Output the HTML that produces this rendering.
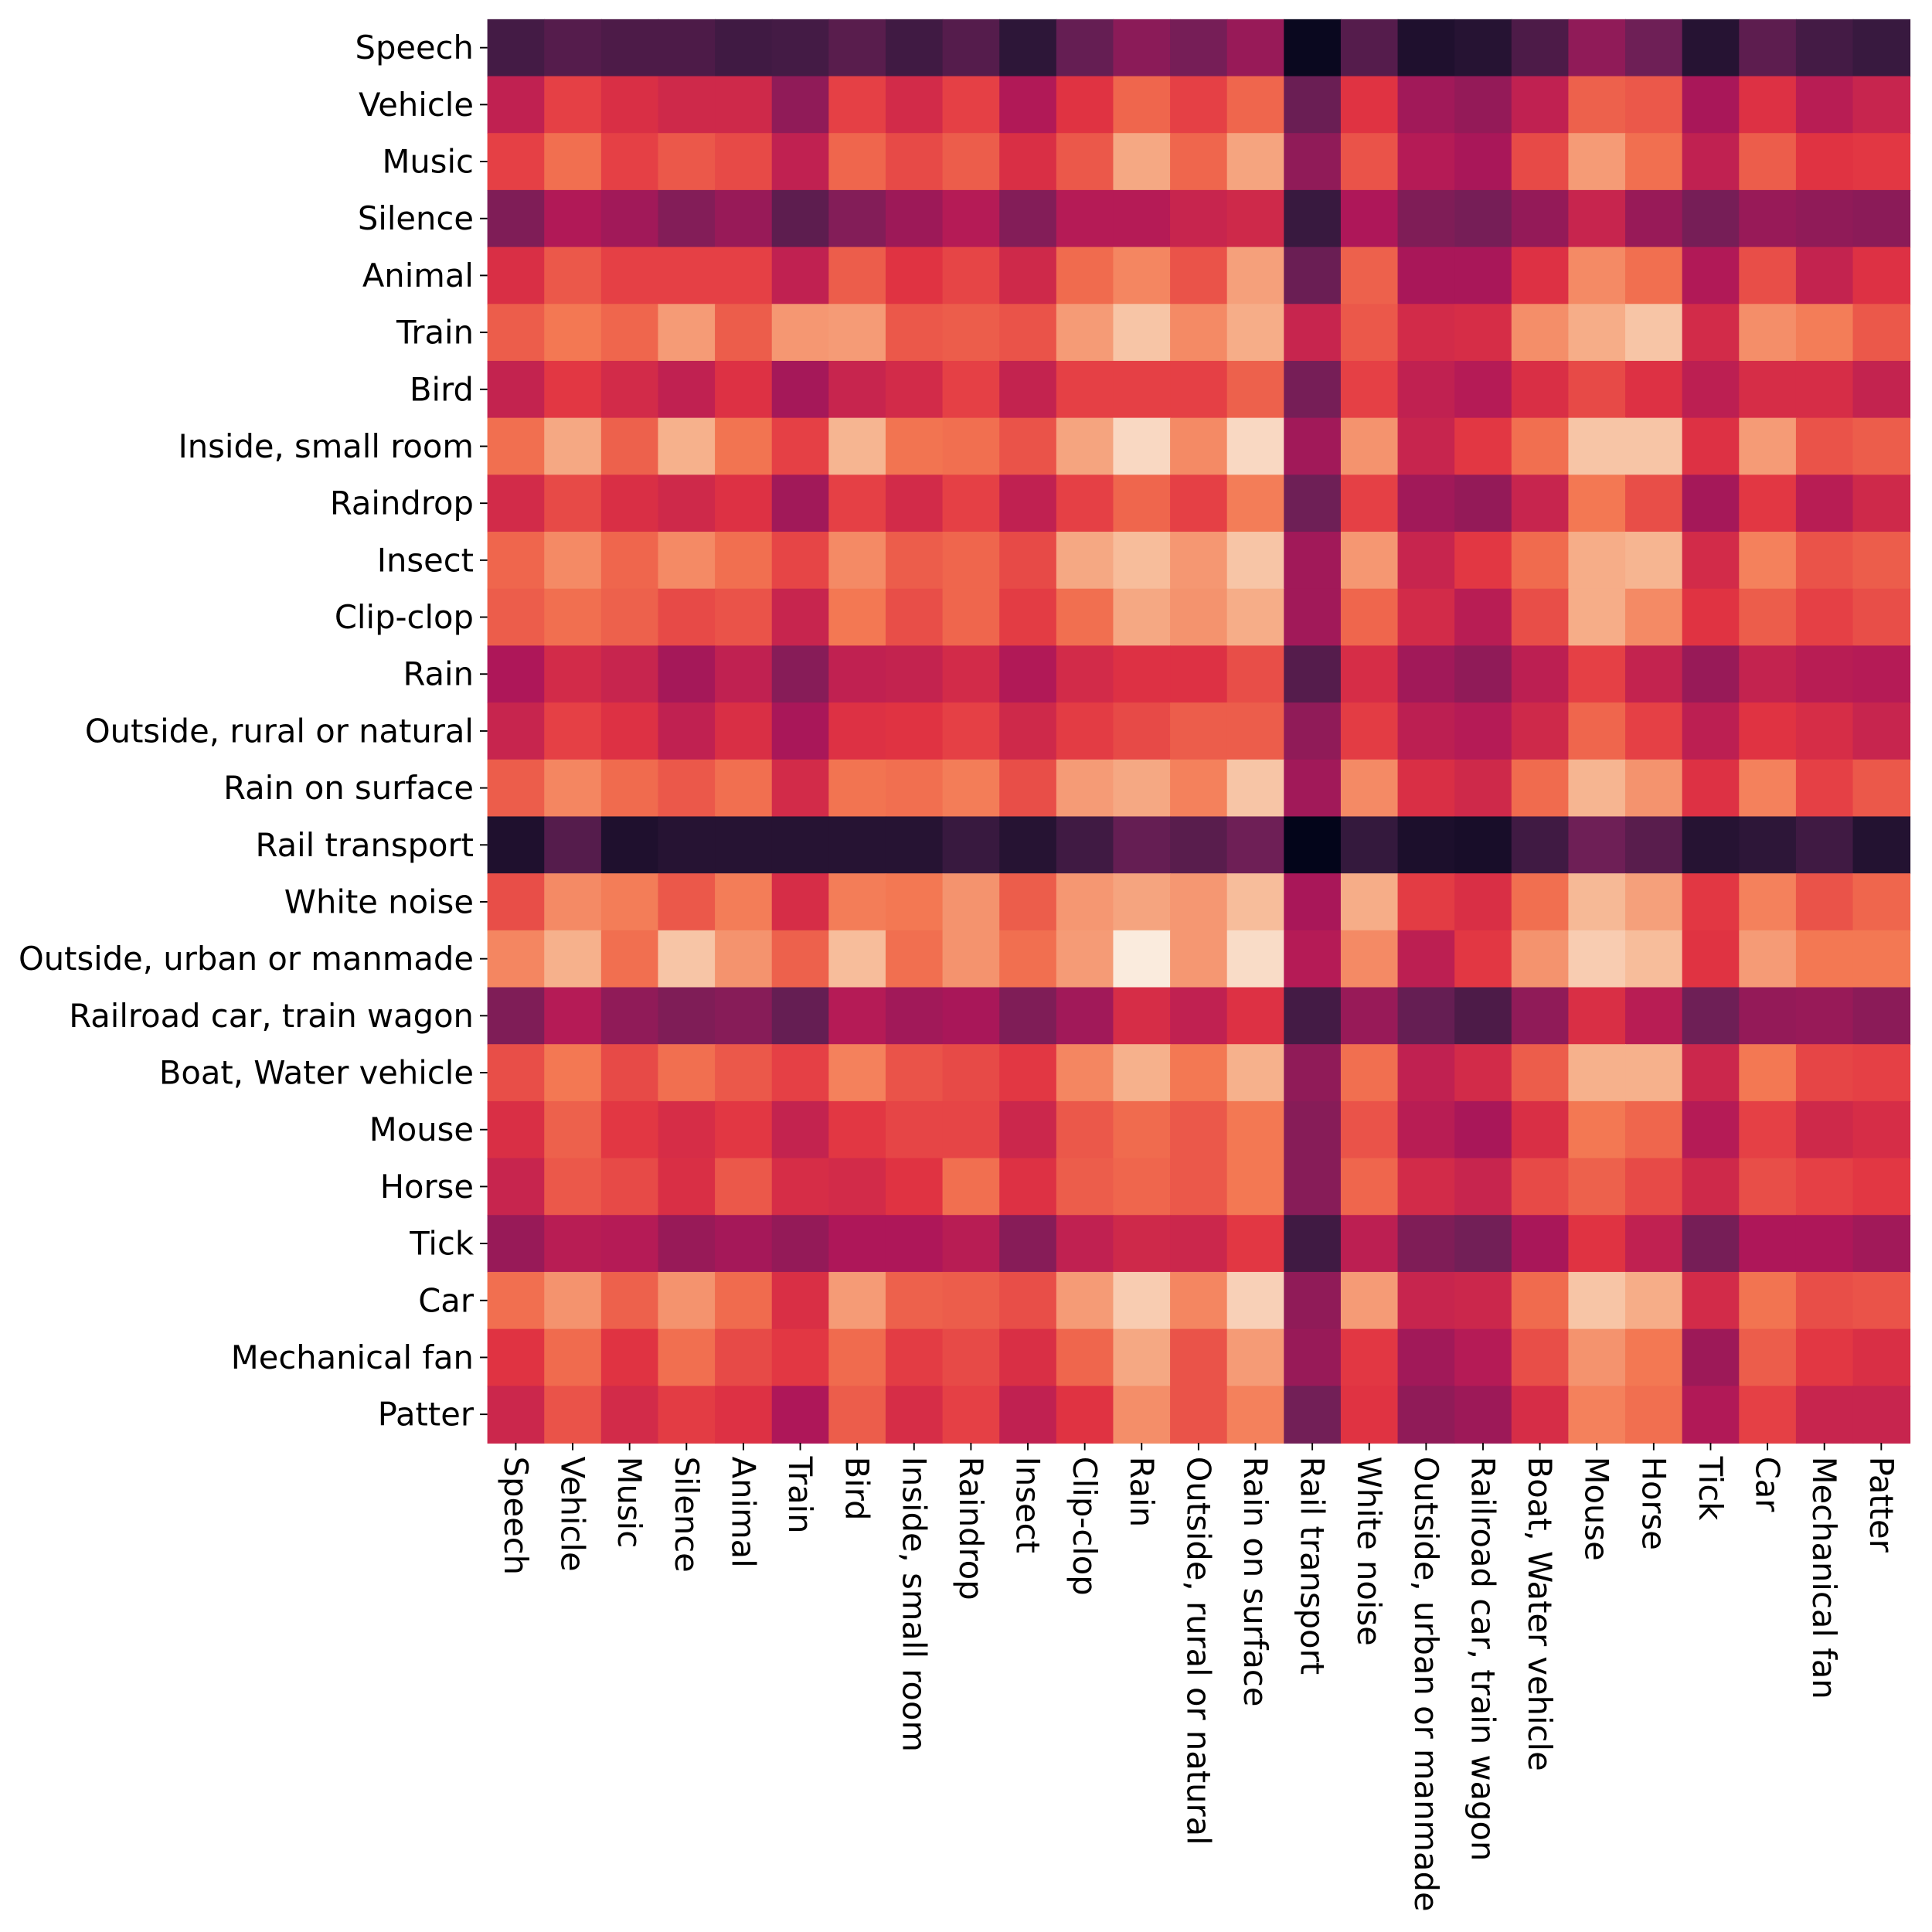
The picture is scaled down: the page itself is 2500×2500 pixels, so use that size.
<!DOCTYPE html>
<html><head><meta charset="utf-8"><style>html,body{margin:0;padding:0;background:#fff}svg{display:block}</style></head>
<body>
<svg id="chart" width="2500" height="2500" viewBox="0 0 1560 1560" xmlns="http://www.w3.org/2000/svg">
<g id="cells"></g>
<g id="ylabels"></g>
<g id="xlabels"></g>
</svg>
<script>
const categories = ["Speech","Vehicle","Music","Silence","Animal","Train","Bird","Inside, small room","Raindrop","Insect","Clip-clop","Rain","Outside, rural or natural","Rain on surface","Rail transport","White noise","Outside, urban or manmade","Railroad car, train wagon","Boat, Water vehicle","Mouse","Horse","Tick","Car","Mechanical fan","Patter"];
const rowSpeech=[0.18,0.22,0.2,0.2,0.17,0.18,0.23,0.17,0.22,0.12,0.26,0.35,0.3,0.38,0.02,0.22,0.08,0.1,0.2,0.36,0.28,0.1,0.24,0.18,0.15];
const rowVehicle=[0.48,0.6,0.55,0.52,0.52,0.36,0.6,0.53,0.6,0.44,0.57,0.68,0.6,0.68,0.27,0.57,0.4,0.37,0.48,0.67,0.65,0.42,0.56,0.46,0.5];
const rowMusic=[0.6,0.7,0.6,0.65,0.62,0.48,0.68,0.62,0.66,0.55,0.65,0.83,0.68,0.82,0.36,0.64,0.45,0.42,0.62,0.8,0.7,0.48,0.66,0.57,0.58];
const rowSilence=[0.32,0.44,0.4,0.33,0.38,0.24,0.33,0.39,0.45,0.33,0.45,0.45,0.5,0.52,0.15,0.43,0.32,0.3,0.37,0.5,0.38,0.3,0.38,0.36,0.35];
const rowAnimal=[0.55,0.65,0.6,0.6,0.6,0.48,0.66,0.57,0.61,0.52,0.69,0.75,0.64,0.81,0.27,0.67,0.42,0.42,0.56,0.76,0.7,0.44,0.63,0.49,0.56];
const rowTrain=[0.66,0.72,0.68,0.8,0.66,0.79,0.8,0.65,0.66,0.64,0.8,0.9,0.76,0.84,0.5,0.65,0.53,0.54,0.77,0.84,0.9,0.53,0.77,0.73,0.65];
const rowBird=[0.49,0.58,0.53,0.48,0.56,0.41,0.5,0.53,0.6,0.49,0.6,0.6,0.6,0.67,0.3,0.6,0.48,0.45,0.55,0.62,0.56,0.47,0.54,0.54,0.49];
const rowInside=[0.7,0.83,0.67,0.85,0.71,0.6,0.86,0.71,0.7,0.64,0.82,0.95,0.76,0.95,0.4,0.78,0.5,0.58,0.7,0.9,0.9,0.56,0.8,0.64,0.66];
const rowRaindrop=[0.53,0.62,0.55,0.52,0.56,0.4,0.6,0.53,0.6,0.48,0.6,0.68,0.6,0.73,0.28,0.6,0.4,0.37,0.5,0.72,0.63,0.41,0.58,0.46,0.52];
const rowInsect=[0.68,0.76,0.68,0.76,0.7,0.61,0.76,0.66,0.68,0.62,0.83,0.88,0.79,0.9,0.4,0.79,0.5,0.58,0.69,0.84,0.86,0.53,0.74,0.64,0.66];
const rowClipclop=[0.66,0.7,0.67,0.62,0.64,0.5,0.72,0.63,0.68,0.59,0.7,0.83,0.78,0.84,0.4,0.68,0.53,0.46,0.63,0.84,0.76,0.57,0.66,0.6,0.63];
const rowRain=[0.43,0.53,0.5,0.41,0.48,0.34,0.48,0.49,0.53,0.44,0.53,0.56,0.56,0.63,0.22,0.54,0.4,0.36,0.47,0.6,0.49,0.38,0.49,0.46,0.45];
const rowOutRural=[0.5,0.6,0.56,0.48,0.55,0.42,0.56,0.57,0.6,0.52,0.59,0.62,0.66,0.66,0.36,0.59,0.47,0.45,0.52,0.68,0.6,0.47,0.57,0.54,0.5];
const rowRainSurface=[0.66,0.75,0.69,0.65,0.7,0.53,0.71,0.7,0.73,0.63,0.8,0.83,0.74,0.9,0.4,0.76,0.55,0.52,0.69,0.86,0.78,0.56,0.74,0.6,0.65];
const rowRailTransport=[0.08,0.22,0.08,0.1,0.1,0.1,0.1,0.1,0.15,0.1,0.17,0.26,0.23,0.28,0.0,0.14,0.07,0.06,0.17,0.28,0.23,0.1,0.12,0.17,0.09];
const rowWhiteNoise=[0.63,0.76,0.73,0.65,0.73,0.54,0.73,0.72,0.78,0.66,0.79,0.82,0.79,0.88,0.42,0.84,0.59,0.55,0.7,0.87,0.81,0.58,0.74,0.64,0.68];
const rowOutUrban=[0.75,0.85,0.7,0.9,0.78,0.67,0.88,0.7,0.78,0.7,0.8,1.0,0.79,0.96,0.45,0.76,0.47,0.58,0.78,0.92,0.88,0.57,0.8,0.72,0.72];
const rowRailroadCar=[0.32,0.45,0.36,0.32,0.34,0.26,0.45,0.4,0.42,0.32,0.4,0.54,0.48,0.56,0.18,0.38,0.26,0.2,0.36,0.55,0.46,0.28,0.37,0.38,0.35];
const rowBoat=[0.63,0.72,0.62,0.7,0.65,0.6,0.74,0.64,0.62,0.58,0.75,0.85,0.72,0.85,0.36,0.7,0.48,0.53,0.66,0.85,0.85,0.51,0.72,0.61,0.6];
const rowMouse=[0.55,0.67,0.58,0.54,0.58,0.49,0.58,0.61,0.61,0.51,0.65,0.69,0.65,0.72,0.34,0.64,0.46,0.42,0.55,0.72,0.68,0.45,0.6,0.52,0.54];
const rowHorse=[0.5,0.65,0.62,0.55,0.65,0.54,0.53,0.57,0.7,0.56,0.66,0.68,0.65,0.72,0.34,0.68,0.53,0.5,0.62,0.67,0.62,0.52,0.63,0.6,0.58];
const rowTick=[0.38,0.46,0.45,0.38,0.41,0.37,0.43,0.43,0.46,0.34,0.48,0.52,0.51,0.58,0.17,0.47,0.32,0.29,0.42,0.57,0.48,0.3,0.43,0.43,0.4];
const rowCar=[0.7,0.78,0.67,0.78,0.69,0.55,0.8,0.67,0.66,0.63,0.8,0.92,0.75,0.93,0.36,0.8,0.5,0.51,0.69,0.9,0.84,0.53,0.71,0.63,0.64];
const rowMechFan=[0.57,0.69,0.57,0.7,0.62,0.58,0.69,0.59,0.62,0.55,0.68,0.83,0.64,0.8,0.38,0.58,0.4,0.45,0.63,0.78,0.72,0.39,0.66,0.58,0.55];
const rowPatter=[0.51,0.64,0.53,0.59,0.56,0.43,0.66,0.54,0.6,0.48,0.57,0.77,0.64,0.74,0.29,0.57,0.36,0.39,0.54,0.74,0.7,0.44,0.6,0.5,0.5];
const matrix=[rowSpeech,rowVehicle,rowMusic,rowSilence,rowAnimal,rowTrain,rowBird,rowInside,rowRaindrop,rowInsect,rowClipclop,rowRain,rowOutRural,rowRainSurface,rowRailTransport,rowWhiteNoise,rowOutUrban,rowRailroadCar,rowBoat,rowMouse,rowHorse,rowTick,rowCar,rowMechFan,rowPatter];

const NS="http://www.w3.org/2000/svg";
const X0=393.5,X1=1542,Y0=15.5,Y1=1165;
const n=categories.length;
const cw=(X1-X0)/n, ch=(Y1-Y0)/n;
const xScale=i=>X0+i*cw;
const yScale=j=>Y0+j*ch;
const stops=[[0,[3,5,26]],[1/7,[53,25,62]],[2/7,[112,31,87]],[3/7,[173,23,89]],[4/7,[225,51,66]],[5/7,[243,118,81]],[6/7,[246,180,143]],[1,[250,235,221]]];
function rocket(v){v=Math.max(0,Math.min(1,v));for(let k=1;k<stops.length;k++){if(v<=stops[k][0]){const a=stops[k-1],b=stops[k];const t=(v-a[0])/(b[0]-a[0]);const c=a[1].map((x,i)=>Math.round(x+(b[1][i]-x)*t));return `rgb(${c[0]},${c[1]},${c[2]})`;}}return "rgb(250,235,221)";}
const gc=document.getElementById('cells'),gy=document.getElementById('ylabels'),gx=document.getElementById('xlabels');
matrix.forEach((row,j)=>row.forEach((v,i)=>{
  const r=document.createElementNS(NS,'rect');
  r.setAttribute('x',xScale(i));r.setAttribute('y',yScale(j));
  r.setAttribute('width',cw+0.6);r.setAttribute('height',ch+0.6);
  r.setAttribute('fill',rocket(v));
  
  
  gc.appendChild(r);
}));
const FONT='"DejaVu Sans","Liberation Sans",sans-serif';
const FS='26';
categories.forEach((c,j)=>{
  const cy=yScale(j)+ch/2;
  const t=document.createElementNS(NS,'line');
  t.setAttribute('x1',X0-6);t.setAttribute('x2',X0);t.setAttribute('y1',cy);t.setAttribute('y2',cy);t.setAttribute('stroke','#000');t.setAttribute('stroke-width','1.2');
  
  
  gy.appendChild(t);
  const tx=document.createElementNS(NS,'text');
  tx.setAttribute('x',X0-11);tx.setAttribute('y',cy);tx.setAttribute('text-anchor','end');tx.setAttribute('dominant-baseline','central');
  tx.setAttribute('font-family',FONT);tx.setAttribute('font-size',FS);tx.setAttribute('fill','#000');
  tx.textContent=c;
  
  
  gy.appendChild(tx);
});
categories.forEach((c,i)=>{
  const cx=xScale(i)+cw/2;
  const t=document.createElementNS(NS,'line');
  t.setAttribute('x1',cx);t.setAttribute('x2',cx);t.setAttribute('y1',Y1);t.setAttribute('y2',Y1+6);t.setAttribute('stroke','#000');t.setAttribute('stroke-width','1.2');
  
  
  gx.appendChild(t);
  const tx=document.createElementNS(NS,'text');
  tx.setAttribute('transform',`translate(${cx},${Y1+11}) rotate(90)`);
  tx.setAttribute('x',0);tx.setAttribute('y',0);tx.setAttribute('dominant-baseline','central');
  tx.setAttribute('font-family',FONT);tx.setAttribute('font-size',FS);tx.setAttribute('fill','#000');
  tx.textContent=c;
  
  
  gx.appendChild(tx);
});
</script>
</body></html>
